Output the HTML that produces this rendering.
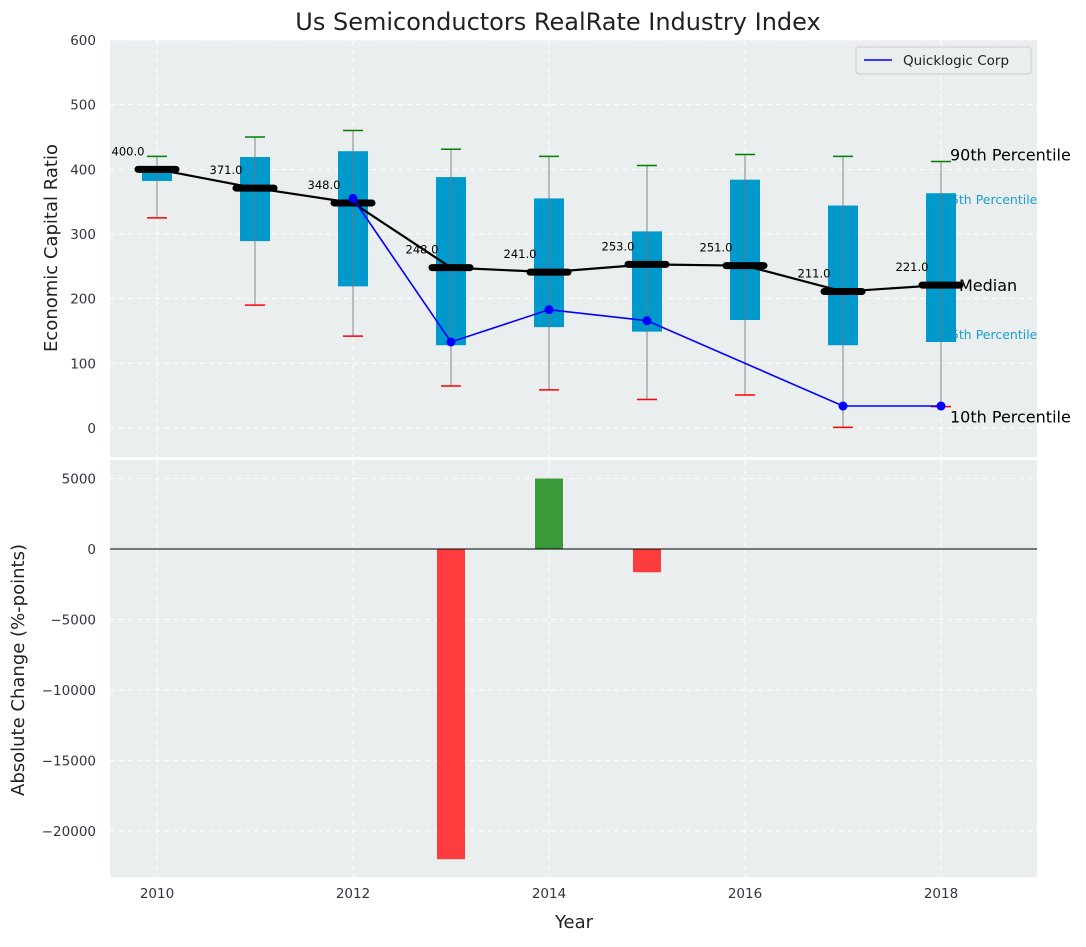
<!DOCTYPE html>
<html><head><meta charset="utf-8"><style>
body{margin:0;background:#fff;}
svg text{font-family:"DejaVu Sans","Liberation Sans",sans-serif;}
</style></head><body>
<svg id="c" width="1086" height="942" xmlns="http://www.w3.org/2000/svg"></svg>
<script>
const years=[2010,2011,2012,2013,2014,2015,2016,2017,2018];
const p10=[325,190,142,65,59,44,51,1,33];
const p25=[382,289,219,128,156,149,167,128,133];
const medians=[400,371,348,248,241,253,251,211,221];
const p75=[405,419,428,388,355,304,384,344,363];
const p90=[420,450,460,431,420,406,423,420,412];
const compYears=[2012,2013,2014,2015,2017,2018];
const compValues=[355,133,183,166,34,34];
const changeYears=[2013,2014,2015];
const changeValues=[-22000,5000,-1650];
const topTicks=[0,100,200,300,400,500,600];
const botTicks=[5000,0,-5000,-10000,-15000,-20000];
const xTicks=[2010,2012,2014,2016,2018];

const NS="http://www.w3.org/2000/svg";
const svg=document.getElementById('c');
function el(t,a,txt){const e=document.createElementNS(NS,t);for(const k in a)e.setAttribute(k,a[k]);if(txt!==undefined)e.textContent=txt;svg.appendChild(e);return e;}
const X=y=>157+(y-2010)*98;
const Y1=v=>428-v*0.6467;
const Y2=v=>549-v*0.0141;
const L=110,R=1037;

let t=el('text',{x:558,y:30,'font-size':24,'text-anchor':'middle',fill:'#222'},'Us Semiconductors RealRate Industry Index');

let b=el('rect',{x:L,y:40,width:R-L,height:417,fill:'#eaeeef'});

b=el('rect',{x:L,y:460,width:R-L,height:417,fill:'#eaeeef'});

topTicks.forEach(v=>{
  el('line',{x1:L,x2:R,y1:Y1(v),y2:Y1(v),stroke:'#fff','stroke-dasharray':'5,4','stroke-width':1});
  const tx=el('text',{x:96,y:Y1(v)+5,'font-size':13.5,'text-anchor':'end',fill:'#334'},v);
  
});
botTicks.forEach(v=>{
  el('line',{x1:L,x2:R,y1:Y2(v),y2:Y2(v),stroke:'#fff','stroke-dasharray':'5,4','stroke-width':1});
  const tx=el('text',{x:96,y:Y2(v)+5,'font-size':13.5,'text-anchor':'end',fill:'#334'},v===0?'0':String(v).replace('-','\u2212'));
  
});
xTicks.forEach(y=>{
  el('line',{x1:X(y),x2:X(y),y1:40,y2:457,stroke:'#fff','stroke-dasharray':'5,4'});
  el('line',{x1:X(y),x2:X(y),y1:460,y2:877,stroke:'#fff','stroke-dasharray':'5,4'});
  const tx=el('text',{x:X(y),y:898,'font-size':13.5,'text-anchor':'middle',fill:'#334'},y);
  
});
t=el('text',{x:57,y:248,'font-size':18,'text-anchor':'middle',fill:'#222',transform:'rotate(-90 57 248)'},'Economic Capital Ratio');

t=el('text',{x:24,y:670,'font-size':18,'text-anchor':'middle',fill:'#222',transform:'rotate(-90 24 670)'},'Absolute Change (%-points)');

t=el('text',{x:574,y:928,'font-size':18,'text-anchor':'middle',fill:'#222'},'Year');


const xl=X(2018);
[['75th Percentile',Y1(p75[8])+11],['25th Percentile',Y1(p25[8])-3]].forEach(a=>{
  const tx=el('text',{x:xl+2,y:a[1],'font-size':12.5,fill:'#1a9fd0'},a[0]);
  
});
years.forEach((y,i)=>{
  const x=X(y);
  const r=el('rect',{x:x-15,y:Y1(p75[i]),width:30,height:Y1(p25[i])-Y1(p75[i]),fill:'#0099cc'});
  
  el('line',{x1:x,x2:x,y1:Y1(p90[i]),y2:Y1(p10[i]),stroke:'#777','stroke-width':1.1,'stroke-opacity':0.8});
  const w1=el('line',{x1:x-10,x2:x+10,y1:Y1(p90[i]),y2:Y1(p90[i]),stroke:'green','stroke-width':1.5});
  
  const w2=el('line',{x1:x-10,x2:x+10,y1:Y1(p10[i]),y2:Y1(p10[i]),stroke:'red','stroke-width':1.5});
  
});
let pl=el('polyline',{points:years.map((y,i)=>X(y)+','+Y1(medians[i])).join(' '),fill:'none',stroke:'#000','stroke-width':2.2});

years.forEach((y,i)=>{
  const m=el('line',{x1:X(y)-19,x2:X(y)+19,y1:Y1(medians[i]),y2:Y1(medians[i]),stroke:'#000','stroke-width':7,'stroke-linecap':'round'});
  
  const tx=el('text',{x:X(y)-29,y:Y1(medians[i])-14,'font-size':11.5,'text-anchor':'middle',fill:'#000'},medians[i].toFixed(1));
  
});
pl=el('polyline',{points:compYears.map((y,i)=>X(y)+','+Y1(compValues[i])).join(' '),fill:'none',stroke:'blue','stroke-width':1.6});

compYears.forEach((y,i)=>{
  const c=el('circle',{cx:X(y),cy:Y1(compValues[i]),r:4.5,fill:'blue'});
  
});
[['90th Percentile',xl+9,Y1(p90[8])-1],['Median',xl+18,Y1(medians[8])+6],['10th Percentile',xl+9,Y1(p10[8])+16]].forEach(a=>{
  const tx=el('text',{x:a[1],y:a[2],'font-size':16,fill:'#000'},a[0]);
  
});
let lg=el('rect',{x:856,y:47,width:175,height:27,rx:3,fill:'#eaeeef',stroke:'#ccc'});

el('line',{x1:864,x2:892,y1:60,y2:60,stroke:'blue','stroke-width':1.6});
t=el('text',{x:903,y:65,'font-size':13.5,fill:'#222'},'Quicklogic Corp');

changeYears.forEach((y,i)=>{
  const v=changeValues[i];
  const r=el('rect',{x:X(y)-14,y:Math.min(Y2(v),Y2(0)),width:28,height:Math.abs(Y2(v)-Y2(0)),fill:v>=0?'#3a9a3a':'#fd3d3d'});
  
});
el('line',{x1:L,x2:R,y1:Y2(0),y2:Y2(0),stroke:'#000','stroke-width':1});
</script>
</body></html>
